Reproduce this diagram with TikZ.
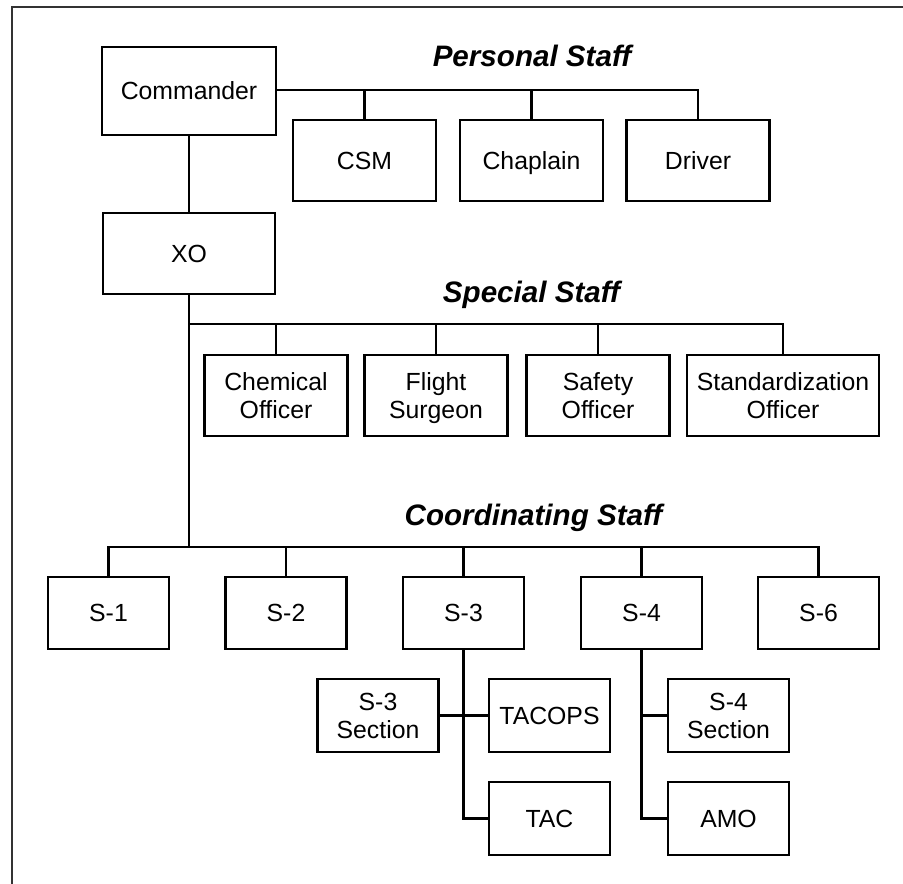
\documentclass[tikz,border=0pt]{standalone}
\usepackage{fontspec}
\setmainfont{Liberation Sans}
\begin{document}
\begin{tikzpicture}[x=1pt,y=-1pt,
  unit/.style={draw, line width=2.2pt, inner sep=0pt, align=center,
    text height=17.8pt, text depth=0pt,
    font=\fontsize{24.8}{27.5}\selectfont},
  twoline/.style={text height=45.3pt, text depth=0pt},
  wide/.style={unit, minimum width=143pt, minimum height=81pt},
  small/.style={unit, minimum width=121pt, minimum height=73pt},
  heading/.style={anchor=base, font=\fontsize{29.6}{32}\selectfont\bfseries\itshape},
  link/.style={line width=2.1pt}]
\useasboundingbox (0,0) rectangle (903,884);

% frame (top and left edges)
\draw[line width=2.6pt, color=black!80] (903,7) -- (12,7) -- (12,884);

% headings
\node[heading] (hpers) at (532,66) {Personal Staff};
\node[heading] (hspec) at (531.5,302) {Special Staff};
\node[heading] (hcoord) at (533.5,525) {Coordinating Staff};

% command group
\node[unit, minimum width=174pt, minimum height=88pt] (cmd) at (189,91) {Commander};
\node[unit, minimum width=172pt, minimum height=81pt] (xo) at (189,253.5) {XO};

% personal staff
\node[wide] (csm) at (364.5,160.5) {CSM};
\node[wide] (chap) at (531.5,160.5) {Chaplain};
\node[wide] (drv) at (698,160.5) {Driver};

% special staff
\node[wide, twoline] (chem) at (276,395.5) {Chemical\\Officer};
\node[wide, twoline] (flt) at (436,395.5) {Flight\\Surgeon};
\node[wide, twoline] (saf) at (598,395.5) {Safety\\Officer};
\node[wide, twoline, minimum width=192pt] (std) at (783,395.5) {Standardization\\Officer};

% coordinating staff
\node[small, minimum height=72pt] (s1) at (108.5,613) {S-1};
\node[small, minimum height=72pt] (s2) at (286,613) {S-2};
\node[small, minimum height=72pt] (s3) at (463.5,613) {S-3};
\node[small, minimum height=72pt] (s4) at (641.5,613) {S-4};
\node[small, minimum height=72pt] (s6) at (818.5,613) {S-6};

% sections under S-3 and S-4
\node[small, twoline] (s3sec) at (378,715.5) {S-3\\Section};
\node[small] (tacops) at (549.5,715.5) {TACOPS};
\node[small] (tac) at (549.5,818.5) {TAC};
\node[small, twoline] (s4sec) at (728.5,715.5) {S-4\\Section};
\node[small] (amo) at (728.5,818.5) {AMO};

% bus coordinates
\coordinate (pbus) at (698,90);
\coordinate (spbus) at (189,324);
\coordinate (cobus) at (189,547);

% commander -> personal staff
\draw[link] (cmd.east |- pbus) -- (pbus) -- (drv.north);
\draw[link] (csm.north) -- (csm.north |- pbus);
\draw[link] (chap.north) -- (chap.north |- pbus);

% commander -> XO -> staff trunk
\draw[link] (cmd.south) -- (xo.north);
\draw[link] (xo.south) -- (cobus);

% special staff bus
\draw[link] (spbus) -- (std.north |- spbus) -- (std.north);
\draw[link] (chem.north) -- (chem.north |- spbus);
\draw[link] (flt.north) -- (flt.north |- spbus);
\draw[link] (saf.north) -- (saf.north |- spbus);

% coordinating staff bus
\draw[link] (s1.north) -- (s1.north |- cobus) -- (s6.north |- cobus) -- (s6.north);
\draw[link] (s2.north) -- (s2.north |- cobus);
\draw[link] (s3.north) -- (s3.north |- cobus);
\draw[link] (s4.north) -- (s4.north |- cobus);

% S-3 branch
\draw[link] (s3.south) -- (s3.south |- tac.west) -- (tac.west);
\draw[link] (s3sec.east) -- (tacops.west);

% S-4 branch
\draw[link] (s4.south) -- (s4.south |- amo.west) -- (amo.west);
\draw[link] (s4.south |- s4sec.west) -- (s4sec.west);
\end{tikzpicture}
\end{document}
